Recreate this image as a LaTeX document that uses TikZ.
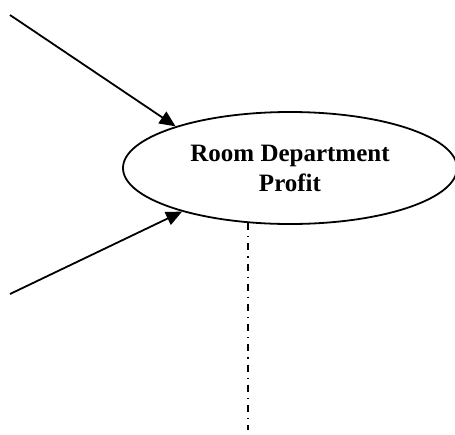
\documentclass[tikz,border=0pt]{standalone}
\usepackage{fontspec}
\setmainfont{Liberation Serif}
\usetikzlibrary{shapes.geometric,arrows.meta}

\begin{document}
\begin{tikzpicture}[x=0.5pt,y=-0.5pt,line width=0.9pt,
		oval/.style={draw,ellipse,minimum width=167pt,minimum height=56pt,inner sep=0pt,align=center,font=\fontsize{12.5}{15}\selectfont\bfseries},
		flow/.style={-{Triangle[length=8pt,width=7pt]}},
		dashdot/.style={line width=1pt,dash pattern=on 3.5pt off 3pt on 0.6pt off 3pt}]
			\useasboundingbox (0,0) rectangle (455,434);
			\node[oval] (profit)at(290,168) {Room Department\\Profit};
			\coordinate (in1)at(10,15);
			\coordinate (in2)at(10,294);
			\coordinate (out)at(250,430);
			
			\draw[flow] (in1) -- (profit.160.8);
			\draw[flow] (in2) -- (profit.202.8);
			\draw[dashdot] (profit.233.7) -- (profit.233.7 |- out);
		\end{tikzpicture}
\end{document}
